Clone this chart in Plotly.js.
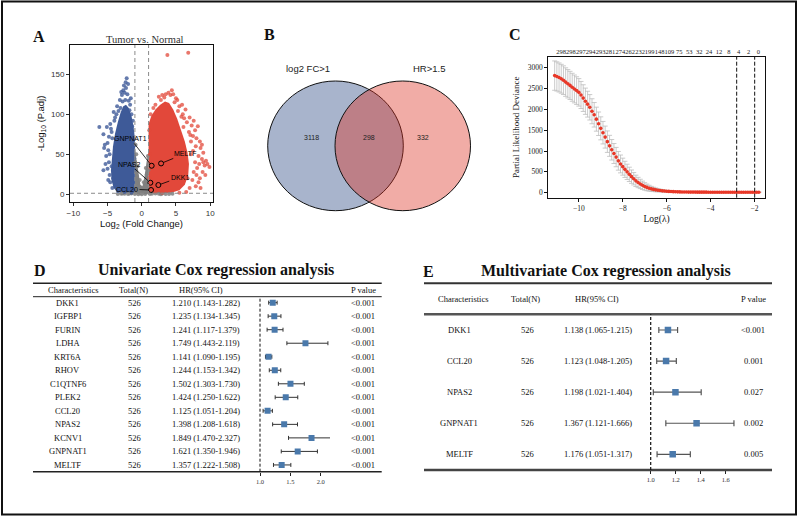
<!DOCTYPE html>
<html><head><meta charset="utf-8">
<script src="https://cdn.plot.ly/plotly-3.0.1.min.js"></script>
<style>html,body{margin:0;padding:0;background:#fff;} #plot{width:798px;height:517px;}</style>
</head><body><div id="plot"></div>
<script>
// ---------------- Panel A : volcano (log2FC, -log10 P.adj) ----------------
const grayCoreFC = [-1, -1, -0.8, -0.5, -0.2, 0.1, 0.4, 0.7, 1, 1];
const grayCoreP  = [0, 60, 45, 28, 12, 10, 22, 40, 55, 0];
const blueCoreFC = [-1, -1, -1.2, -1.5, -1.9, -2.3, -2.7, -3.1, -3.5, -3.9, -4.2, -4.4, -4.5, -4.4, -4.1, -3.6, -2.8, -1.8];
const blueCoreP  = [1.4, 70, 85, 98, 108, 112, 110, 102, 90, 76, 60, 45, 30, 17, 8, 3, 1.6, 1.4];
const redCoreFC  = [1, 1, 1.4, 2.0, 2.7, 3.4, 4.0, 4.6, 5.2, 5.8, 6.3, 6.7, 6.9, 6.8, 6.3, 5.5, 4.3, 3.0];
const redCoreP   = [1.4, 88, 98, 106, 112, 116, 114, 106, 94, 80, 66, 52, 38, 24, 12, 5, 2, 1.4];
const downFC = [-2.2,-2.7,-2.5,-2.9,-2.1,-3.2,-1.9,-3.6,-1.7,-4.1,-3.9,-5.1,-4.6,-4.4,-4.8,-5.0,-4.9,-5.2,-4.8,-5.0,-4.7,-4.6,-4.3,-3.5,-2.5,-1.5,-1.2,-1.1,-1.2,-1.4,-1.5,-1.8,-2.3,-2.6,-3.0,-3.4,-4.0,-4.3,-4.7,-4.4,-4.2,-3.9,-5.5,-5.3,-2.35,-2.0,-1.3,-1.6,-5.6,-4.9,-6.2,-5.6,-5.4,-2.8,-3.7,-4.5,-1.1,-1.3,-2.4,-3.1];
const downP  = [145,130,127,124,125,118,117,110,112,103,96,84,88,78,72,64,55,48,40,32,24,15,8,4,3,2,5,30,60,85,100,105,133,136,128,104,92,70,50,35,20,11,58,38,140,138,92,120,30,18,84,75,62,116,100,82,45,15,118,108];
const upFC = [3.75,6.8,3.5,4.2,4.6,3.9,5.0,4.8,5.5,5.3,6.0,6.2,5.8,7.0,6.6,7.3,8.2,7.8,6.9,7.5,8.0,8.5,7.2,7.9,8.6,9.0,7.5,8.3,9.4,9.6,9.2,8.8,7.8,8.1,8.9,7.6,8.5,8.3,7.4,7.9,7.0,6.5,5.5,2.5,2.0,1.3,1.7,2.8,3.3,1.1,1.2,1.1,2.0,3.0,6.4,5.9,7.6,8.8,9.9,9.3,6.7,7.2,8.0,4.0,4.4,5.2,3.0,6.1,7.1,8.4,9.0,8.6];
const upP  = [174,177,125,124,125,127,120,115,110,104,100,95,97,96,90,86,85,80,78,73,70,66,66,60,58,52,54,48,42,38,36,44,40,33,28,28,20,15,18,10,8,3,2,122,112,100,108,118,121,80,50,20,3,2,106,112,92,62,34,24,20,50,24,108,130,118,124,84,74,38,40,8];
const nsFC = [-0.9,-0.8,-0.6,-0.3,0.0,0.3,0.6,0.9,-0.95,-0.7,0.75,0.95,-2.5,-2.0,-1.5,-1.0,-0.5,0,0.5,1.5,2.0,2.5,3.0,3.5,-3.0,-3.5,4.0,-0.2,0.4,-0.7,0.8,-1.8,1.2,2.8,-2.8,4.5];
const nsP  = [62,50,35,18,6,15,33,48,40,20,25,30,0.8,0.5,1.0,0.3,0.2,0.1,0.4,0.6,1.0,0.7,0.9,0.4,0.6,0.3,0.5,2,3,5,8,0.9,0.3,0.2,1.1,0.8];
const labelGenes = ['GNPNAT1','MELTF','NPAS2','DKK1','CCL20'];
const labelFC = [1.45, 2.83, 1.26, 2.43, 1.36];
const labelP  = [35.7, 38.6, 14.5, 11.6, 5.4];
const fcCut = 1, pCut = 1.3;

// ---------------- Panel B : Venn ----------------
const vennSets = ['log2 FC&gt;1', 'HR&gt;1.5'];
const vennCounts = [3118, 298, 332]; // left only, both, right only

// ---------------- Panel C : LASSO CV ----------------
const logLambda = [-11.1,-11.0,-10.9,-10.8,-10.7,-10.6,-10.5,-10.4,-10.3,-10.2,-10.1,-10.0,-9.9,-9.8,-9.7,-9.6,-9.5,-9.4,-9.3,-9.2,-9.1,-9.0,-8.9,-8.8,-8.7,-8.6,-8.5,-8.4,-8.3,-8.2,-8.1,-8.0,-7.9,-7.8,-7.7,-7.6,-7.5,-7.4,-7.3,-7.2,-7.1,-7.0,-6.9,-6.8,-6.7,-6.6,-6.5,-6.4,-6.3,-6.2,-6.1,-6.0,-5.9,-5.8,-5.7,-5.6,-5.5,-5.4,-5.3,-5.2,-5.1,-5.0,-4.9,-4.8,-4.7,-4.6,-4.5,-4.4,-4.3,-4.2,-4.1,-4.0,-3.9,-3.8,-3.7,-3.6,-3.5,-3.4,-3.3,-3.2,-3.1,-3.0,-2.9,-2.8,-2.7,-2.6,-2.5,-2.4,-2.3,-2.2,-2.1,-2.0,-1.9,-1.8];
const deviance = [2810,2790,2765,2735,2700,2655,2615,2575,2530,2490,2450,2408,
  2345,2270,2195,2125,2050,1955,1870,1765,1655,1545,
  1440,1335,1225,1125,1030,940,855,765,690,625,
  560,500,440,385,335,285,245,210,178,150,
  127,108,92,79,68,60,52,45,40,35,
  31,28,25,23,21,19,18,17,16,15,
  14,14,14,13,13,13,13,13,12,12,12,12,12,12,12,12,12,12,12,12,12,12,12,12,12,12,12,12,12,12,12,12];
const devErr = [352,350,348,346,344,342,340,338,336,334,332,330,
  325,320,315,310,305,300,294,288,282,276,
  270,264,258,252,246,240,232,224,214,204,
  194,184,172,160,148,136,124,112,100,90,
  80,70,60,52,45,38,32,27,23,20,
  17,15,13,12,11,10,9,9,8,8,
  8,8,7,7,7,7,7,7,7,7,7,7,7,7,7,7,7,7,7,7,7,7,7,7,7,7,7,8,8,8,8,8];
const nzeroLabels = ['298','298','297','294','293','281','274','262','232','199','148','109','75','53','32','24','12','8','4','2','0'];
const nzeroPos = [-10.81,-10.36,-9.91,-9.46,-9.01,-8.56,-8.11,-7.66,-7.21,-6.77,-6.32,-5.87,-5.42,-4.97,-4.52,-4.07,-3.62,-3.17,-2.72,-2.27,-1.82];
const lambdaMinLog = -2.81, lambda1seLog = -1.99;

// ---------------- Panel D : univariate Cox ----------------
const uniGenes = ['DKK1','IGFBP1','FURIN','LDHA','KRT6A','RHOV','C1QTNF6','PLEK2','CCL20','NPAS2','KCNV1','GNPNAT1','MELTF'];
const uniN  = [526,526,526,526,526,526,526,526,526,526,526,526,526];
const uniHR = [1.210,1.235,1.241,1.749,1.141,1.244,1.502,1.424,1.125,1.398,1.849,1.621,1.357];
const uniLo = [1.143,1.134,1.117,1.443,1.090,1.153,1.303,1.250,1.051,1.208,1.470,1.350,1.222];
const uniHi = [1.282,1.345,1.379,2.119,1.195,1.342,1.730,1.622,1.204,1.618,2.327,1.946,1.508];
const uniP  = ['&lt;0.001','&lt;0.001','&lt;0.001','&lt;0.001','&lt;0.001','&lt;0.001','&lt;0.001','&lt;0.001','&lt;0.001','&lt;0.001','&lt;0.001','&lt;0.001','&lt;0.001'];

// ---------------- Panel E : multivariate Cox ----------------
const multiGenes = ['DKK1','CCL20','NPAS2','GNPNAT1','MELTF'];
const multiN  = [526,526,526,526,526];
const multiHR = [1.138,1.123,1.198,1.367,1.176];
const multiLo = [1.065,1.048,1.021,1.121,1.051];
const multiHi = [1.215,1.205,1.404,1.666,1.317];
const multiP  = ['&lt;0.001','0.001','0.027','0.002','0.005'];

// ================= drawing =================
const SANS = 'Liberation Sans, Arial, sans-serif';
const SERIF = 'Liberation Serif, Times New Roman, serif';
const W = 798, H = 517;
const PX = v => v / W, PY = v => 1 - v / H;
const hrText = (h, l, u) => h.toFixed(3) + ' (' + l.toFixed(3) + '-' + u.toFixed(3) + ')';

const traces = [];
const fillTrace = (x, y, c) => ({x, y, type:'scatter', mode:'lines', fill:'toself', fillcolor:c, line:{width:0, color:c}, xaxis:'x', yaxis:'y', hoverinfo:'skip'});
traces.push(fillTrace(grayCoreFC, grayCoreP, 'rgb(128,128,128)'));
traces.push(fillTrace(blueCoreFC, blueCoreP, 'rgb(62,90,152)'));
traces.push(fillTrace(redCoreFC, redCoreP, 'rgb(226,72,58)'));
const ptTrace = (x, y, c) => ({x, y, type:'scatter', mode:'markers', marker:{size:4, color:c, line:{width:0}}, xaxis:'x', yaxis:'y', hoverinfo:'skip'});
traces.push(ptTrace(nsFC, nsP, 'rgba(128,128,128,0.85)'));
traces.push(ptTrace(downFC, downP, 'rgba(62,90,152,0.8)'));
traces.push(ptTrace(upFC, upP, 'rgba(226,72,58,0.75)'));
traces.push({x:labelFC, y:labelP, type:'scatter', mode:'markers', marker:{symbol:'circle-open', size:5, color:'#000', line:{width:1, color:'#000'}}, xaxis:'x', yaxis:'y', hoverinfo:'skip'});

// Panel C
traces.push({x:logLambda, y:deviance, type:'scatter', mode:'markers',
  marker:{size:3.6, color:'rgb(232,56,40)'},
  error_y:{type:'data', array:devErr, color:'rgb(190,190,190)', thickness:0.8, width:2.5},
  xaxis:'x3', yaxis:'y3', hoverinfo:'skip'});
traces.push({x:nzeroPos, y:nzeroPos.map(() => null), type:'scatter', mode:'markers', xaxis:'x4', yaxis:'y3', hoverinfo:'skip', showlegend:false});

// Panel D forest
traces.push({x:uniHR, y:uniGenes, type:'scatter', mode:'markers',
  marker:{symbol:'square', size:6, color:'#4a79ab'},
  error_x:{type:'data', symmetric:false, array:uniHi.map((u,i)=>u-uniHR[i]), arrayminus:uniLo.map((l,i)=>uniHR[i]-l), color:'#333', thickness:1, width:2},
  xaxis:'x5', yaxis:'y5', hoverinfo:'skip'});
// Panel E forest
traces.push({x:multiHR, y:multiGenes, type:'scatter', mode:'markers',
  marker:{symbol:'square', size:6.5, color:'#4a79ab'},
  error_x:{type:'data', symmetric:false, array:multiHi.map((u,i)=>u-multiHR[i]), arrayminus:multiLo.map((l,i)=>multiHR[i]-l), color:'#555', thickness:1.2, width:3},
  xaxis:'x6', yaxis:'y6', hoverinfo:'skip'});

// ---------- annotations ----------
const ann = [];
function txt(x, y, text, size, o) {
  ann.push(Object.assign({xref:'paper', yref:'paper', x:PX(x), y:PY(y), text:text, showarrow:false,
    xanchor:'center', yanchor:'middle', font:{family:SERIF, size:size, color:'#111'}}, o || {}));
}
// panel letters
txt(38.5, 36, '<b>A</b>', 16);
txt(269, 35, '<b>B</b>', 16);
txt(515, 35, '<b>C</b>', 16);
txt(39.5, 270, '<b>D</b>', 16);
txt(428.5, 271.5, '<b>E</b>', 16);
// A title
txt(144.5, 40, 'Tumor vs. Normal', 10.5, {font:{family:SERIF, size:10.5, color:'#333'}});
// A gene labels
const labelTextPos = [[-1.67, 69.8], [6.39, 51.1], [-1.8, 37.8], [5.56, 21.2], [-2.15, 6.6]];
labelGenes.forEach((g, i) => {
  ann.push({xref:'x', yref:'y', axref:'x', ayref:'y', x:labelFC[i], y:labelP[i], ax:labelTextPos[i][0], ay:labelTextPos[i][1],
    text:g, showarrow:true, arrowhead:0, arrowwidth:0.8, arrowcolor:'#000', standoff:2.5,
    font:{family:SANS, size:7, color:'#000'}});
});
// B texts
txt(308, 68.3, vennSets[0], 9.5, {font:{family:SANS, size:9.5, color:'#222'}});
txt(429, 68.3, vennSets[1], 9.5, {font:{family:SANS, size:9.5, color:'#222'}});
txt(311.7, 137.5, String(vennCounts[0]), 7, {font:{family:SANS, size:7, color:'#222'}});
txt(369, 137.5, String(vennCounts[1]), 7, {font:{family:SANS, size:7, color:'#222'}});
txt(423.3, 137.5, String(vennCounts[2]), 7, {font:{family:SANS, size:7, color:'#222'}});
// D title + header
txt(216.3, 270, '<b>Univariate Cox regression analysis</b>', 16);
const TF = 8.5;
txt(73, 289.5, 'Characteristics', TF);
txt(133.7, 289.5, 'Total(N)', TF);
txt(201, 289.5, 'HR(95% CI)', TF);
txt(363, 289.5, 'P value', TF);
uniGenes.forEach((g, i) => {
  const base = {xref:'paper', yref:'y5', y:g, showarrow:false, xanchor:'center', yanchor:'middle', font:{family:SERIF, size:TF, color:'#111'}};
  ann.push(Object.assign({}, base, {x:PX(67.5), text:g}));
  ann.push(Object.assign({}, base, {x:PX(134.3), text:String(uniN[i])}));
  ann.push(Object.assign({}, base, {x:PX(206.3), text:hrText(uniHR[i], uniLo[i], uniHi[i])}));
  ann.push(Object.assign({}, base, {x:PX(362.7), text:uniP[i]}));
});
// E title + header
txt(606, 271, '<b>Multivariate Cox regression analysis</b>', 16);
txt(463.8, 298.5, 'Characteristics', TF);
txt(525, 298.5, 'Total(N)', TF);
txt(597, 298.5, 'HR(95% CI)', TF);
txt(753.3, 298.5, 'P value', TF);
multiGenes.forEach((g, i) => {
  const base = {xref:'paper', yref:'y6', y:g, showarrow:false, xanchor:'center', yanchor:'middle', font:{family:SERIF, size:TF, color:'#111'}};
  ann.push(Object.assign({}, base, {x:PX(459), text:g}));
  ann.push(Object.assign({}, base, {x:PX(527.5), text:String(multiN[i])}));
  ann.push(Object.assign({}, base, {x:PX(597.5), text:hrText(multiHR[i], multiLo[i], multiHi[i])}));
  ann.push(Object.assign({}, base, {x:PX(753.3), text:multiP[i]}));
});

// ---------- shapes ----------
const shapes = [];
const pline = (x0, y0, x1, y1, w, c) => shapes.push({type:'line', xref:'paper', yref:'paper', x0:PX(x0), x1:PX(x1), y0:PY(y0), y1:PY(y1), line:{width:w, color:c || '#222'}});
// frame
shapes.push({type:'rect', xref:'paper', yref:'paper', x0:PX(2), x1:PX(796), y0:PY(514.5), y1:PY(1.5), line:{width:2, color:'#111'}});
// volcano thresholds
[-fcCut, fcCut].forEach(v => shapes.push({type:'line', xref:'x', yref:'y domain', x0:v, x1:v, y0:0, y1:1, layer:'above', line:{width:1, color:'#8a8a8a', dash:'4px,3px'}}));
shapes.push({type:'line', xref:'x domain', yref:'y', x0:0, x1:1, y0:pCut, y1:pCut, layer:'above', line:{width:1, color:'#8a8a8a', dash:'4px,3px'}});
// Venn circles
shapes.push({type:'circle', xref:'paper', yref:'paper', x0:PX(267.7), x1:PX(403.3), y0:PY(210.7), y1:PY(81), fillcolor:'rgb(168,180,204)', line:{width:1, color:'#111'}, layer:'below'});
shapes.push({type:'circle', xref:'paper', yref:'paper', x0:PX(335), x1:PX(470.5), y0:PY(210.7), y1:PY(81), fillcolor:'rgba(220,48,33,0.4)', line:{width:1, color:'#111'}, layer:'below'});
// lasso lambda lines
[lambdaMinLog, lambda1seLog].forEach(v => shapes.push({type:'line', xref:'x3', yref:'y3 domain', x0:v, x1:v, y0:0, y1:1, line:{width:1, color:'#111', dash:'4px,2px'}}));
// D table rules
pline(33, 283.3, 381.7, 283.3, 1.5);
pline(33, 296.7, 381.7, 296.7, 1);
pline(33, 471.7, 381.7, 471.7, 1.5);
shapes.push({type:'line', xref:'x5', yref:'y5 domain', x0:1, x1:1, y0:0, y1:0.99, line:{width:1, color:'#111', dash:'3px,2px'}});
// E table rules
pline(424, 283.3, 772, 283.3, 2, '#333');
pline(424, 314.3, 772, 314.3, 2.5, '#555');
pline(424, 470, 772, 470, 2.5, '#444');
shapes.push({type:'line', xref:'x6', yref:'y6 domain', x0:1, x1:1, y0:0, y1:1, line:{width:1.2, color:'#111', dash:'3px,2px'}});

// ---------- layout ----------
const noGrid = {showgrid:false, zeroline:false};
const layout = {
  width:W, height:H, margin:{l:0, r:0, t:0, b:0}, paper_bgcolor:'#fff', plot_bgcolor:'rgba(0,0,0,0)',
  showlegend:false, annotations:ann, shapes:shapes,
  xaxis: Object.assign({domain:[PX(70), PX(213)], range:[-10.49, 10.42], anchor:'y', showline:true, mirror:true, linecolor:'#111', linewidth:1,
    ticks:'outside', ticklen:3, tickcolor:'#333', tickvals:[-10,-5,0,5,10], tickfont:{family:SANS, size:8, color:'#333'},
    title:{text:'Log<sub>2</sub> (Fold Change)', font:{family:SANS, size:9.5, color:'#111'}, standoff:2}}, noGrid),
  yaxis: Object.assign({domain:[PY(202), PY(45)], range:[-9.6, 186.6], anchor:'x', showline:true, mirror:true, linecolor:'#111', linewidth:1,
    ticks:'outside', ticklen:3, tickcolor:'#333', tickvals:[0,50,100,150], tickfont:{family:SANS, size:8, color:'#333'},
    title:{text:'-Log<sub>10</sub> (P.adj)', font:{family:SANS, size:9.5, color:'#111'}, standoff:4}}, noGrid),
  xaxis3: Object.assign({domain:[PX(548.3), PX(765)], range:[-11.39, -1.52], anchor:'y3', showline:true, mirror:true, linecolor:'#111', linewidth:1,
    ticks:'outside', ticklen:3, tickcolor:'#111', tickvals:[-10,-8,-6,-4,-2], tickfont:{family:SERIF, size:7.5, color:'#222'},
    title:{text:'Log(λ)', font:{family:SERIF, size:9.5, color:'#111'}, standoff:3}}, noGrid),
  yaxis3: Object.assign({domain:[PY(197.7), PY(56.7)], range:[-120, 3264], anchor:'x3', showline:true, mirror:true, linecolor:'#111', linewidth:1,
    ticks:'outside', ticklen:3, tickcolor:'#111', tickvals:[0,500,1000,1500,2000,2500,3000], tickfont:{family:SERIF, size:7.5, color:'#222'},
    title:{text:'Partial Likelihood Deviance', font:{family:SERIF, size:9, color:'#111'}, standoff:6}}, noGrid),
  xaxis4: Object.assign({overlaying:'x3', side:'top', anchor:'y3', range:[-11.39, -1.52], tickvals:nzeroPos, ticktext:nzeroLabels, tickangle:0,
    ticks:'', showline:false, tickfont:{family:SERIF, size:6.5, color:'#222'}}, noGrid),
  xaxis5: Object.assign({domain:[PX(240), PX(330)], range:[1 - 20/60.7, 1 + 70/60.7], anchor:'y5', showline:false,
    ticks:'outside', ticklen:3, tickcolor:'#222', tickvals:[1,1.5,2], tickformat:'.1f', tickfont:{family:SERIF, size:6.5, color:'#333'}}, noGrid),
  yaxis5: Object.assign({domain:[PY(471.7), PY(296.7)], range:[12.5, -0.44], type:'category', categoryorder:'array', categoryarray:uniGenes, anchor:'x5', visible:false}, noGrid),
  xaxis6: Object.assign({domain:[PX(640), PX(750)], range:[1 - 10.7/125, 1 + 99.3/125], anchor:'y6', showline:false,
    ticks:'outside', ticklen:3, tickcolor:'#222', tickvals:[1,1.2,1.4,1.6], tickformat:'.1f', tickfont:{family:SERIF, size:6.5, color:'#333'}}, noGrid),
  yaxis6: Object.assign({domain:[PY(470), PY(314.3)], range:[4.504, -0.505], type:'category', categoryorder:'array', categoryarray:multiGenes, anchor:'x6', visible:false}, noGrid)
};

Plotly.newPlot('plot', traces, layout, {staticPlot:true, displayModeBar:false});
</script></body></html>
